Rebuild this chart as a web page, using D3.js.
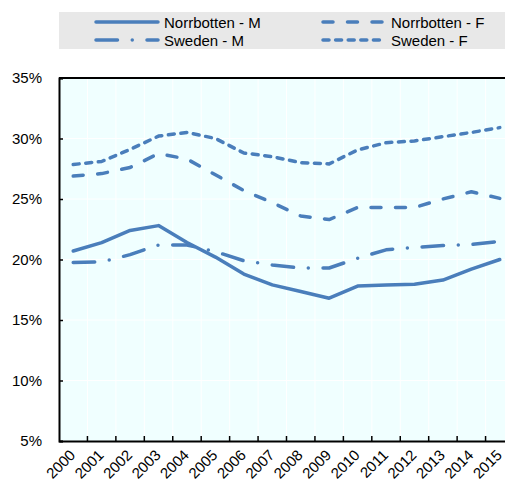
<!DOCTYPE html>
<html>
<head>
<meta charset="utf-8">
<script src="https://cdn.jsdelivr.net/npm/d3@7"></script>
<style>
  html, body { margin: 0; padding: 0; background: #fff; }
  svg { display: block; font-family: "Liberation Sans", Arial, sans-serif; }
</style>
</head>
<body>
<svg id="chart" width="505" height="481"></svg>
<script>
// Share of population (%), 2000–2015
const years = ["2000","2001","2002","2003","2004","2005","2006","2007",
               "2008","2009","2010","2011","2012","2013","2014","2015"];
const norrbottenM = [20.7, 21.4, 22.4, 22.8, 21.4, 20.2, 18.8, 17.9, 17.35, 16.8, 17.8, 17.9, 17.95, 18.3, 19.2, 20.0];
const norrbottenF = [26.9, 27.1, 27.6, 28.75, 28.3, 27.0, 25.7, 24.7, 23.6, 23.3, 24.3, 24.3, 24.3, 25.0, 25.6, 25.05];
const swedenM     = [19.75, 19.8, 20.4, 21.2, 21.2, 20.65, 19.9, 19.55, 19.3, 19.3, 20.1, 20.8, 21.0, 21.15, 21.25, 21.5];
const swedenF     = [27.85, 28.1, 29.1, 30.2, 30.5, 30.0, 28.8, 28.5, 28.0, 27.9, 29.05, 29.65, 29.8, 30.15, 30.5, 30.9];
const yTicks = [5, 10, 15, 20, 25, 30, 35];

const series = [
  { name: "Norrbotten - M", values: norrbottenM, dash: null },
  { name: "Norrbotten - F", values: norrbottenF, dash: "10,14.5" },
  { name: "Sweden - M",     values: swedenM,     dash: "21.5,14.75,0,14.75" },
  { name: "Sweden - F",     values: swedenF,     dash: "6,6.6" }
];

const colour = "#4a7ebb";
const svg = d3.select("#chart");

const plot = { left: 59, right: 514, top: 78, bottom: 441 };

const x = d3.scaleBand().domain(years).range([plot.left, plot.right]).padding(0);
const y = d3.scaleLinear().domain([5, 35]).range([plot.bottom, plot.top]);

// plot background
svg.append("rect")
  .attr("x", plot.left).attr("y", plot.top)
  .attr("width", plot.right - plot.left).attr("height", plot.bottom - plot.top)
  .attr("fill", "#f0ffff");

// gridlines
const bounds = years.slice(1).map(d => x(d));
svg.append("g").selectAll("line.v").data(bounds).join("line")
  .attr("x1", d => d).attr("x2", d => d)
  .attr("y1", plot.top).attr("y2", plot.bottom)
  .attr("stroke", "#fff").attr("stroke-width", 1);
svg.append("g").selectAll("line.h").data(yTicks.slice(1, -1)).join("line")
  .attr("x1", plot.left).attr("x2", plot.right)
  .attr("y1", d => y(d)).attr("y2", d => y(d))
  .attr("stroke", "#fff").attr("stroke-width", 1);

// lines
const line = d3.line()
  .x((d, i) => x(years[i]) + x.bandwidth() / 2)
  .y(d => y(d));

svg.append("g").selectAll("path").data(series).join("path")
  .attr("d", s => line(s.values))
  .attr("fill", "none")
  .attr("stroke", colour)
  .attr("stroke-width", 3.5)
  .attr("stroke-linecap", "round")
  .attr("stroke-linejoin", "round")
  .attr("stroke-dasharray", s => s.dash);

// frame: top border
svg.append("line")
  .attr("x1", plot.left).attr("x2", plot.right)
  .attr("y1", plot.top).attr("y2", plot.top)
  .attr("stroke", "#000").attr("stroke-width", 2);

// y axis
const yAxis = d3.axisLeft(y).tickValues(yTicks)
  .tickFormat(d => d + "%").tickSize(-4).tickPadding(17);
const gy = svg.append("g").attr("transform", `translate(${plot.left},0)`).call(yAxis);
gy.select(".domain").attr("stroke", "#000").attr("stroke-width", 2);
gy.selectAll(".tick line").attr("stroke", "#000").attr("stroke-width", 1.5);
gy.selectAll(".tick text").attr("font-size", 15).attr("fill", "#000")
  .attr("font-family", "'Liberation Sans', Arial, sans-serif");

// x axis: ticks on category boundaries, labels at category centres
const xAxis = d3.axisBottom(x).tickSize(0).tickPadding(0);
const gx = svg.append("g").attr("transform", `translate(0,${plot.bottom})`).call(xAxis);
gx.select(".domain").attr("stroke", "#000").attr("stroke-width", 2);
gx.selectAll(".tick text")
  .attr("font-size", 15).attr("fill", "#000")
  .attr("font-family", "'Liberation Sans', Arial, sans-serif")
  .attr("text-anchor", "end")
  .attr("y", 0).attr("dy", 0)
  .attr("transform", "translate(3,15) rotate(-45)");
gx.append("g").selectAll("line").data(bounds).join("line")
  .attr("x1", d => d).attr("x2", d => d)
  .attr("y1", 0).attr("y2", -5)
  .attr("stroke", "#000").attr("stroke-width", 1.5);

// legend
const legend = svg.append("g");
legend.append("rect")
  .attr("x", 59).attr("y", 12).attr("width", 460).attr("height", 37)
  .attr("fill", "#e8e8e8");
const legendPos = [
  { lx: 96, ly: 22 },
  { lx: 323, ly: 22 },
  { lx: 96, ly: 40 },
  { lx: 323, ly: 40 }
];
series.forEach((s, i) => {
  const p = legendPos[i];
  legend.append("line")
    .attr("x1", p.lx).attr("x2", p.lx + 62)
    .attr("y1", p.ly).attr("y2", p.ly)
    .attr("stroke", colour).attr("stroke-width", 3.5)
    .attr("stroke-linecap", "round")
    .attr("stroke-dasharray", s.dash);
  legend.append("text")
    .attr("x", p.lx + 68).attr("y", p.ly + 5.5)
    .attr("font-size", 15).attr("fill", "#000")
    .text(s.name);
});
</script>
</body>
</html>
